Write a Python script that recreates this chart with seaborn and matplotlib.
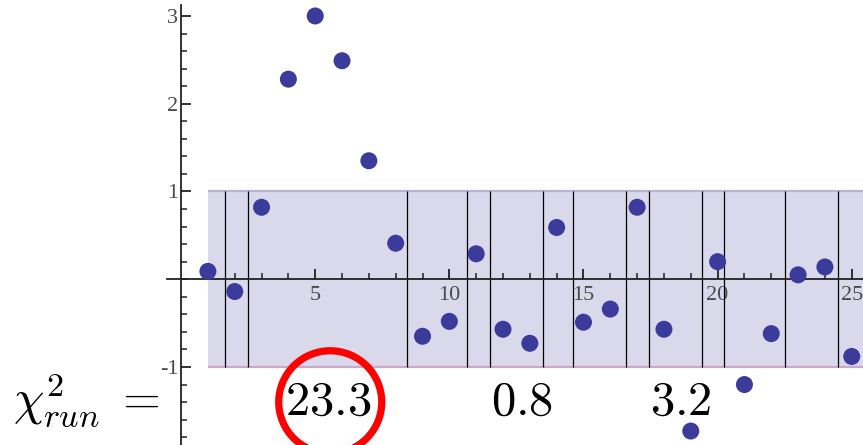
import numpy as np
import pandas as pd
import matplotlib
matplotlib.use("Agg")
import matplotlib.pyplot as plt
from matplotlib.patches import Ellipse
import seaborn as sns

# Residuals (in units of sigma) for each bin
bins = list(range(1, 26))
residuals = [0.09, -0.14, 0.82, 2.28, 3.00, 2.49, 1.35, 0.41, -0.65, -0.48,
             0.29, -0.57, -0.73, 0.59, -0.49, -0.34, 0.82, -0.57, -1.73, 0.20,
             -1.20, -0.62, 0.05, 0.14, -0.88]

# Boundaries between runs of same-sign residuals
run_edges = [1.64, 2.50, 8.42, 10.66, 11.52, 13.49, 14.61, 16.59, 17.44,
             19.42, 20.24, 22.51, 24.49]

# Run chi-square values written under the plot
chi2_labels = ["23.3", "0.8", "3.2"]
chi2_xpos = [5.49, 12.72, 18.62]

x_ticks = [5, 10, 15, 20, 25]
y_ticks = [-1, 1, 2, 3]

df = pd.DataFrame({"bin": bins, "residual": residuals})

sns.set_theme(style="white")
plt.rcParams["mathtext.fontset"] = "cm"

fig = plt.figure(figsize=(8.63, 4.45), dpi=100)
ax = fig.add_axes([0, 0, 1, 1])
ax.set_xlim(-6.75, 25.42)
ax.set_ylim(-1.889, 3.182)

# +/- 1 sigma band
x_band_end = 25.42
ax.fill_between([1.0, x_band_end], -1, 1, color="#d9d9eb", lw=0, zorder=0)
ax.plot([1.0, x_band_end], [1, 1], color="#b4b4dc", lw=1.6, zorder=1,
        solid_capstyle="butt")
ax.plot([1.0, x_band_end], [-1, -1], color="#cfa6c8", lw=1.6, zorder=1,
        solid_capstyle="butt")

# run separators
ax.vlines(run_edges, -1, 1, color="black", lw=0.9, zorder=2)

# residual points
sns.scatterplot(data=df, x="bin", y="residual", ax=ax, s=150,
                color="#3b3b9c", edgecolor="none", linewidth=0, zorder=5,
                legend=False)

# axes through the origin
for side in ("top", "right"):
    ax.spines[side].set_visible(False)
ax.spines["left"].set_position(("data", 0))
ax.spines["bottom"].set_position(("data", 0))
ax.spines["bottom"].set_bounds(-0.52, 25.42)
ax.spines["left"].set_bounds(-1.889, 3.12)
for side in ("left", "bottom"):
    ax.spines[side].set_color("#222222")
    ax.spines[side].set_linewidth(1.3)
    ax.spines[side].set_zorder(3)

ax.set_xticks(x_ticks)
ax.set_xticks(np.arange(1, 26), minor=True)
ax.set_yticks(y_ticks)
ax.set_yticks(np.arange(-1.8, 3.01, 0.2), minor=True)
ax.set_xticklabels([str(t) for t in x_ticks])
ax.set_yticklabels([str(t) for t in y_ticks])
ax.tick_params(which="both", bottom=True, left=True, top=False, right=False)
ax.tick_params(which="major", direction="in", length=7, width=1.3,
               color="#222222", labelsize=16, labelcolor="#4a4a4a")
ax.tick_params(which="minor", direction="in", length=4, width=1.1,
               color="#222222")
ax.tick_params(axis="x", which="major", pad=5)
ax.tick_params(axis="y", which="major", pad=2)
for lab in ax.get_xticklabels() + ax.get_yticklabels():
    lab.set_family("Liberation Serif")
ax.set_xlabel("")
ax.set_ylabel("")
ax.grid(False)

# chi-square annotations
ax.text(-6.25, -1.547, r"$\chi^2_{run}\;=$", fontsize=35, ha="left",
        va="baseline", color="black", zorder=6)
for xp, lab in zip(chi2_xpos, chi2_labels):
    ax.text(xp, -1.547, "$" + lab + "$", fontsize=35, ha="center",
            va="baseline", color="black", zorder=6)

ax.add_patch(Ellipse((5.56, -1.40), 3.84, 1.17, fill=False,
                     edgecolor="#ff0000", lw=5.2, zorder=7))

fig.savefig("out.png", dpi=100)
